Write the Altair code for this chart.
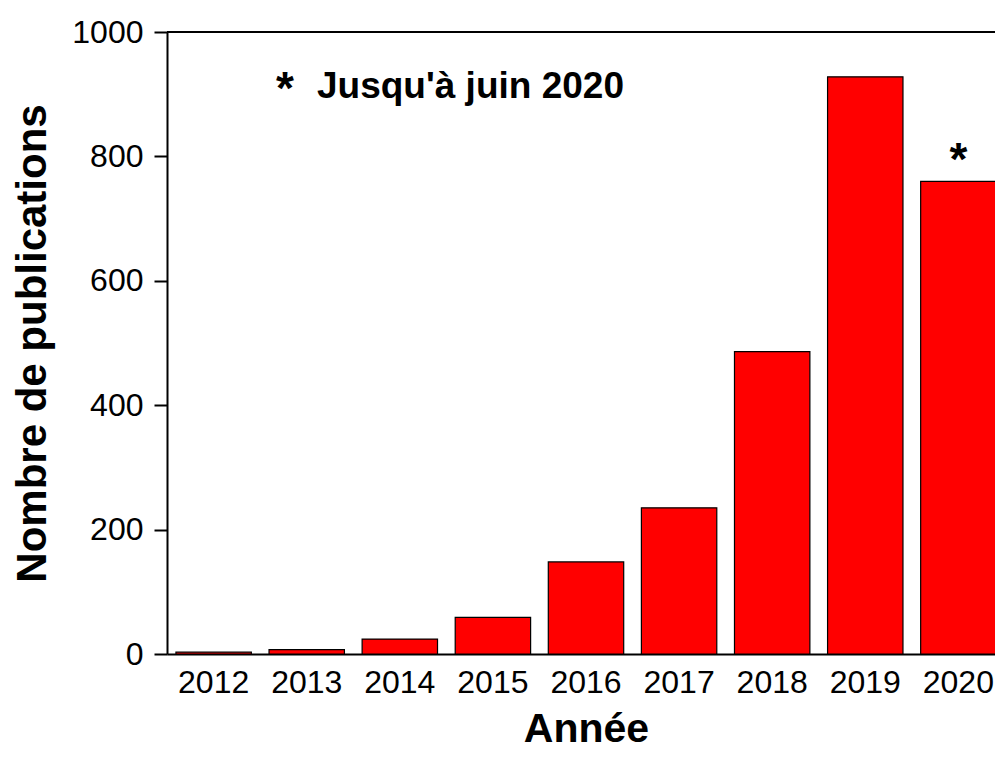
import altair as alt
import pandas as pd

# ---- data ----
years = ["2012", "2013", "2014", "2015", "2016", "2017", "2018", "2019", "2020"]
counts = [3, 7, 24, 59, 148, 235, 486, 928, 760]
y_ticks = [0, 200, 400, 600, 800, 1000]
note_text = "Jusqu'à juin 2020"
star = "*"
x_title = "Année"
y_title = "Nombre de publications"

FONT = "Liberation Sans"

df = pd.DataFrame({"Année": years, "n": counts})
star_df = pd.DataFrame({"Année": [years[-1]], "n": [counts[-1]], "s": [star]})

xscale = alt.Scale(domain=years, range=[0, 838], paddingInner=0.19, paddingOuter=0.096)
yscale = alt.Scale(domain=[0, 1000], nice=False)

x_axis = alt.Axis(
    title=x_title, titleFont=FONT, titleFontSize=41, titleFontWeight="bold",
    titleColor="#000000", titleX=419, titleY=87, titleAlign="center",
    titleBaseline="alphabetic",
    labelFont=FONT, labelFontSize=32, labelColor="#000000", labelAngle=0,
    labelPadding=13, ticks=False, tickSize=0, domainColor="#000000",
    domainWidth=2, grid=False,
)
y_axis = alt.Axis(
    title=y_title, titleFont=FONT, titleFontSize=42, titleFontWeight="bold",
    titleColor="#000000", titleAngle=270, titleX=-135, titleY=311,
    titleAlign="center", titleBaseline="middle",
    values=y_ticks, format="d", labelFont=FONT, labelFontSize=32,
    labelColor="#000000", labelPadding=11, tickSize=13, tickWidth=2,
    tickColor="#000000", domainColor="#000000", domainWidth=2, grid=False,
)

bars = alt.Chart(df).mark_bar(fill="#FF0000", stroke="#000000", strokeWidth=1.2).encode(
    x=alt.X("Année:N", scale=xscale, sort=years, axis=x_axis),
    y=alt.Y("n:Q", scale=yscale, axis=y_axis),
)

star_mark = alt.Chart(star_df).mark_text(
    font=FONT, fontSize=46, fontWeight="bold", color="#000000",
    baseline="alphabetic", align="center", dy=-6,
).encode(
    x=alt.X("Année:N", scale=xscale, sort=years),
    y=alt.Y("n:Q", scale=yscale),
    text="s:N",
)

note_star = alt.Chart(pd.DataFrame({"s": [star]})).mark_text(
    font=FONT, fontSize=46, fontWeight="bold", color="#000000",
    baseline="alphabetic", align="center",
).encode(x=alt.value(118), y=alt.value(72), text="s:N")

note = alt.Chart(pd.DataFrame({"t": [note_text]})).mark_text(
    font=FONT, fontSize=37, fontWeight="bold", color="#000000",
    baseline="alphabetic", align="left",
).encode(x=alt.value(150), y=alt.value(66), text="t:N")

top_rule = alt.Chart(pd.DataFrame({"v": [1000]})).mark_rule(
    color="#000000", strokeWidth=2
).encode(x=alt.value(0), x2=alt.value(838), y=alt.value(0))

chart = alt.layer(bars, star_mark, note_star, note, top_rule).properties(
    width=828,
    height=622,
    autosize=alt.AutoSizeParams(type="none"),
    padding={"left": 159, "top": 24, "right": 0, "bottom": 96},
    background="#ffffff",
).configure_view(stroke="transparent")

chart.save("out.html", embed_options={"renderer": "svg", "actions": False})
